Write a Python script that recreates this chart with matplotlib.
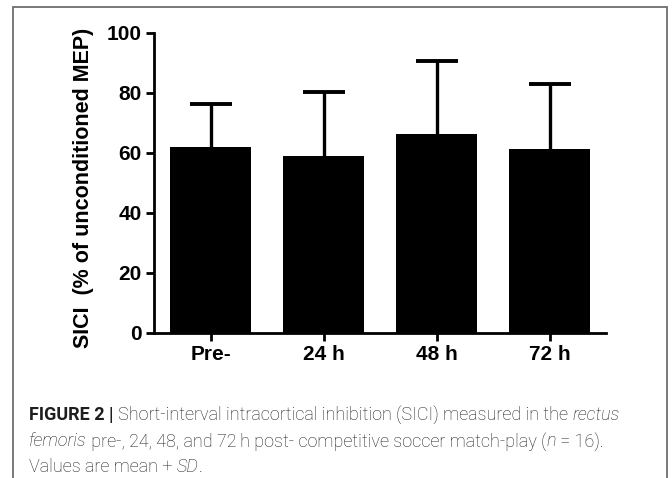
import matplotlib
matplotlib.use("Agg")
import matplotlib.pyplot as plt
from matplotlib.lines import Line2D
import numpy as np

# ---- data ----
categories = ["Pre-", "24 h", "48 h", "72 h"]
means = [62.1, 59.1, 66.2, 61.3]
sds = [14.2, 21.1, 24.6, 21.7]
y_ticks = [0, 20, 40, 60, 80, 100]
y_label = "SICI  (% of unconditioned MEP)"

W, H = 672, 478
fig = plt.figure(figsize=(W / 100, H / 100), dpi=100)
fig.patch.set_facecolor("white")

TICKFONT = ["Liberation Sans", "DejaVu Sans"]

ax = fig.add_axes([154 / W, 1 - 333 / H, (606 - 154) / W, 300 / H])
x = np.arange(len(categories))
ax.bar(x, means, width=0.708, color="black", edgecolor="black", linewidth=0, zorder=3)
_, caplines, barcols = ax.errorbar(x, means, yerr=[np.zeros(len(sds)), sds], fmt="none",
                                   ecolor="black", elinewidth=2.4, capsize=15,
                                   capthick=2.8, zorder=2)
means_arr = np.asarray(means)
for cl in caplines:
    if np.allclose(cl.get_ydata(), means_arr):
        cl.set_visible(False)
    cl.set_solid_capstyle("round")
ax.set_xlim(-0.5, len(categories) - 0.5)
ax.set_ylim(0, 100)
ax.set_yticks(y_ticks)
ax.set_xticks(x)
ax.set_xticklabels(categories)
for s in ["top", "right"]:
    ax.spines[s].set_visible(False)
for s in ["left", "bottom"]:
    ax.spines[s].set_linewidth(2.0)
    ax.spines[s].set_zorder(4)
ax.tick_params(axis="both", width=2.0, length=6, pad=3, labelsize=15)
for lab in ax.get_xticklabels() + ax.get_yticklabels():
    lab.set_fontweight("bold")
    lab.set_family(TICKFONT)

fig.text(84 / W, 1 - 187.5 / H, y_label, rotation=90, ha="center", va="center",
         fontsize=15.5, fontweight="bold", family=TICKFONT)

# ---- frame ----
col = "#6e6e6e"
fig.add_artist(Line2D([13 / W, 13 / W, 667 / W, 667 / W],
                      [-0.05, 1 - 7 / H, 1 - 7 / H, -0.05],
                      transform=fig.transFigure, color=col, linewidth=1.3,
                      solid_joinstyle="miter"))

# ---- caption ----
CAPFONT = ["Roboto", "DejaVu Sans"]
ccol = "#1e1e1e"
lines = [
    [("FIGURE 2 | ", "bold", "normal"),
     ("Short-interval intracortical inhibition (SICI) measured in the ", "light", "normal"),
     ("rectus", "light", "italic")],
    [("femoris", "light", "italic"),
     (" pre-, 24, 48, and 72\u2009h post- competitive soccer match-play (", "light", "normal"),
     ("n", "light", "italic"),
     (" = 16).", "light", "normal")],
    [("Values are mean + ", "light", "normal"),
     ("SD", "light", "italic"),
     (".", "light", "normal")],
]
baselines = [420, 446.5, 472]
renderer = fig.canvas.get_renderer()


def width_of(txt, size, weight, style):
    t1 = fig.text(0, 0, txt + "|", fontsize=size, fontweight=weight, fontstyle=style, family=CAPFONT)
    t2 = fig.text(0, 0, "|", fontsize=size, fontweight=weight, fontstyle=style, family=CAPFONT)
    w = t1.get_window_extent(renderer).width - t2.get_window_extent(renderer).width
    t1.remove(); t2.remove()
    return w


base = 12.0
w1 = sum(width_of(t, base, wt, st) for t, wt, st in lines[0])
size = min(13.0, base * (643 - 29) / w1)

for pieces, yb in zip(lines, baselines):
    xp = 29.0
    for t, wt, st in pieces:
        fig.text(xp / W, 1 - yb / H, t, fontsize=size, fontweight=wt, fontstyle=st,
                 family=CAPFONT, color=ccol, ha="left", va="baseline")
        xp += width_of(t, size, wt, st)

fig.savefig("out.png", dpi=100, facecolor="white")
